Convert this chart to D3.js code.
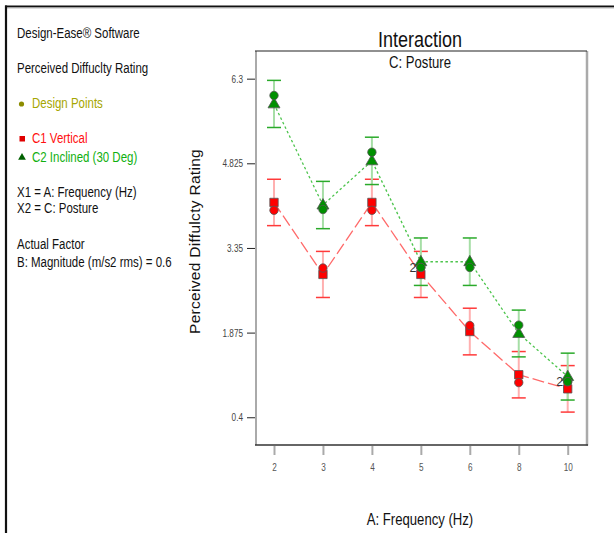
<!DOCTYPE html>
<html>
<head>
<meta charset="utf-8">
<script src="https://cdn.jsdelivr.net/npm/d3@7"></script>
<style>
  html, body { margin: 0; padding: 0; background: #fff; }
  svg { display: block; }
  text { font-family: "Liberation Sans", Arial, sans-serif; }
</style>
</head>
<body>
<svg id="chart" width="614" height="533"></svg>
<script>
// ---- data ----
const categories = ["2", "3", "4", "5", "6", "8", "10"];
const yTicks = [0.4, 1.875, 3.35, 4.825, 6.3];

// C1 Vertical (red)
const vertPred  = [4.143, 2.889, 4.143, 2.889, 1.894, 1.141, 0.895];
const vertLow   = [3.739, 2.487, 3.739, 2.487, 1.487, 0.737, 0.490];
const vertHigh  = [4.547, 3.290, 4.547, 3.290, 2.300, 1.545, 1.300];
const vertPoints = [4.006, 3.000, 4.006, 3.010, 1.998, 1.004, 1.020];

// C2 Inclined (30 Deg) (green)
const inclPred  = [5.860, 4.098, 4.868, 3.110, 3.110, 1.860, 1.109];
const inclLow   = [5.449, 3.686, 4.455, 2.697, 2.697, 1.452, 0.700];
const inclHigh  = [6.270, 4.510, 5.280, 3.524, 3.524, 2.267, 1.517];
const inclPoints = [6.007, 4.020, 5.018, 3.010, 3.010, 2.005, 1.020];

const legendInfo = [
  "Design-Ease\u00AE Software",
  "Perceived Diffuclty Rating"
];
const factorLines = ["X1 = A: Frequency (Hz)", "X2 = C: Posture"];
const actualLines = ["Actual Factor", "B: Magnitude (m/s2 rms) = 0.6"];

// ---- drawing ----
const svg = d3.select("#chart");
const SX = 0.82; // horizontal condensing for narrow text

function ntext(parent, x0, y0, str, size, fill, anchor) {
  const g = parent.append("g").attr("transform", `translate(${x0},${y0}) scale(${SX},1)`);
  return g.append("text").attr("x", 0).attr("y", 0).attr("font-size", size)
    .attr("fill", fill || "#111").attr("text-anchor", anchor || "start").text(str);
}

const frame = {left: 256, top: 51, right: 587, bottom: 445};
const x = d3.scalePoint().domain(categories).range([274, 567.7]);
const y = d3.scaleLinear().domain([-0.0835, 6.782]).range([frame.bottom, frame.top]);

// outer border
svg.append("line").attr("x1", 5).attr("x2", 614).attr("y1", 6.5).attr("y2", 6.5)
  .attr("stroke", "#111").attr("stroke-width", 2);
svg.append("line").attr("x1", 5).attr("x2", 614).attr("y1", 8).attr("y2", 8)
  .attr("stroke", "#bbb").attr("stroke-width", 1);
svg.append("line").attr("x1", 6).attr("x2", 6).attr("y1", 5.5).attr("y2", 533)
  .attr("stroke", "#111").attr("stroke-width", 2.2);

// left legend text
const lg = svg.append("g");
ntext(lg, 17, 37.7, legendInfo[0], 14);
ntext(lg, 17, 73.3, legendInfo[1], 14);

lg.append("circle").attr("cx", 21.5).attr("cy", 104).attr("r", 2.6).attr("fill", "#8c8c00");
ntext(lg, 32, 108.3, "Design Points", 14, "#a6a600");

lg.append("rect").attr("x", 19.5).attr("y", 136).attr("width", 5.5).attr("height", 5.5).attr("fill", "#e00000");
ntext(lg, 32, 143.3, "C1 Vertical", 14, "#ff1010");

lg.append("path").attr("d", d3.symbol().type(d3.symbolTriangle).size(26)())
  .attr("transform", "translate(22,157.5)").attr("fill", "#006000");
ntext(lg, 32, 161.7, "C2 Inclined (30 Deg)", 14, "#10b010");

ntext(lg, 17, 196.7, factorLines[0], 14);
ntext(lg, 17, 213.3, factorLines[1], 14);
ntext(lg, 17, 249.3, actualLines[0], 14);
ntext(lg, 17, 266.7, actualLines[1], 14);

// titles
ntext(svg, 420, 46.5, "Interaction", 22, "#111", "middle");
ntext(svg, 420, 67.5, "C: Posture", 16, "#111", "middle");

// frame
svg.append("line").attr("x1", frame.left).attr("x2", frame.left).attr("y1", frame.top).attr("y2", frame.bottom)
  .attr("stroke", "#aaa").attr("stroke-width", 2);
svg.append("line").attr("x1", frame.right).attr("x2", frame.right).attr("y1", frame.top).attr("y2", frame.bottom + 0.5)
  .attr("stroke", "#aaa").attr("stroke-width", 2.5);
svg.append("line").attr("x1", frame.left - 1).attr("x2", frame.right).attr("y1", frame.top).attr("y2", frame.top)
  .attr("stroke", "#222").attr("stroke-width", 1.2);
svg.append("line").attr("x1", frame.left - 1).attr("x2", frame.right + 1).attr("y1", frame.bottom).attr("y2", frame.bottom)
  .attr("stroke", "#333").attr("stroke-width", 1.5);

// y axis
const yAxis = d3.axisLeft(y).tickValues(yTicks).tickSize(8).tickPadding(4)
  .tickFormat(d => String(d));
const gy = svg.append("g").attr("transform", `translate(${frame.left - 1},0)`).call(yAxis);
gy.select(".domain").remove();
gy.selectAll(".tick line").attr("stroke", "#222").attr("stroke-width", 1);
gy.selectAll(".tick text").remove();
gy.selectAll(".tick").each(function(d) {
  ntext(d3.select(this), -12, 3.5, String(d), 10, "#444", "end");
});

// x axis
const xAxis = d3.axisBottom(x).tickSize(9).tickPadding(7);
const gx = svg.append("g").attr("transform", `translate(0,${frame.bottom + 1})`).call(xAxis);
gx.select(".domain").remove();
gx.selectAll(".tick line").attr("stroke", "#aaa").attr("stroke-width", 2);
gx.selectAll(".tick text").remove();
gx.selectAll(".tick").each(function(d) {
  ntext(d3.select(this), 0, 24.5, d, 10, "#555", "middle");
});

// axis titles
ntext(svg, 420, 524.5, "A: Frequency (Hz)", 16, "#111", "middle");
svg.append("text")
  .attr("transform", "translate(200,241.5) rotate(-90)")
  .attr("text-anchor", "middle").attr("font-size", 15.5).attr("letter-spacing", 0.3)
  .attr("fill", "#111").text("Perceived Diffulcty Rating");

// series
const series = [
  {pred: vertPred, low: vertLow, high: vertHigh, pts: vertPoints,
   bar: "#ffb0b0", cap: "#ff3a3a", line: "#ff6a6a", dash: "12,4", fill: "#ff0000", sym: d3.symbolSquare},
  {pred: inclPred, low: inclLow, high: inclHigh, pts: inclPoints,
   bar: "#a6dea6", cap: "#2aaa2a", line: "#4cc44c", dash: "2.5,2.5", fill: "#009000", sym: d3.symbolTriangle}
];

const capHalf = 7;
series.forEach(s => {
  const g = svg.append("g");
  categories.forEach((c, i) => {
    g.append("line").attr("x1", x(c)).attr("x2", x(c)).attr("y1", y(s.high[i])).attr("y2", y(s.low[i]))
      .attr("stroke", s.bar).attr("stroke-width", 2);
    [s.high[i], s.low[i]].forEach(v => {
      g.append("line").attr("x1", x(c) - capHalf).attr("x2", x(c) + capHalf)
        .attr("y1", y(v)).attr("y2", y(v)).attr("stroke", s.cap).attr("stroke-width", 1.5);
    });
  });
});

series.forEach(s => {
  const line = d3.line().x((d, i) => x(categories[i])).y(d => y(d));
  svg.append("path").attr("d", line(s.pred)).attr("fill", "none")
    .attr("stroke", s.line).attr("stroke-width", 1.3).attr("stroke-dasharray", s.dash);
});

// predicted markers
series.forEach(s => {
  const size = s.sym === d3.symbolSquare ? 70 : 62;
  svg.append("g").selectAll("path").data(s.pred).join("path")
    .attr("d", d3.symbol().type(s.sym).size(size)())
    .attr("transform", (d, i) => `translate(${x(categories[i])},${y(d) + (s.sym === d3.symbolTriangle ? 0.5 : 0)})`)
    .attr("fill", s.fill).attr("stroke", "#555").attr("stroke-width", 0.8);
});

// design points
series.forEach(s => {
  svg.append("g").selectAll("circle").data(s.pts).join("circle")
    .attr("cx", (d, i) => x(categories[i])).attr("cy", d => y(d)).attr("r", 4.2)
    .attr("fill", s.fill).attr("stroke", "#555").attr("stroke-width", 0.8);
});

// replicate count labels where points coincide
categories.forEach((c, i) => {
  if (vertPoints[i] === inclPoints[i]) {
    svg.append("text").attr("x", x(c) - 4.5).attr("y", y(inclPoints[i]) + 4.5)
      .attr("text-anchor", "end").attr("font-size", 12.5).attr("fill", "#333").text("2");
  }
});
</script>
</body>
</html>
